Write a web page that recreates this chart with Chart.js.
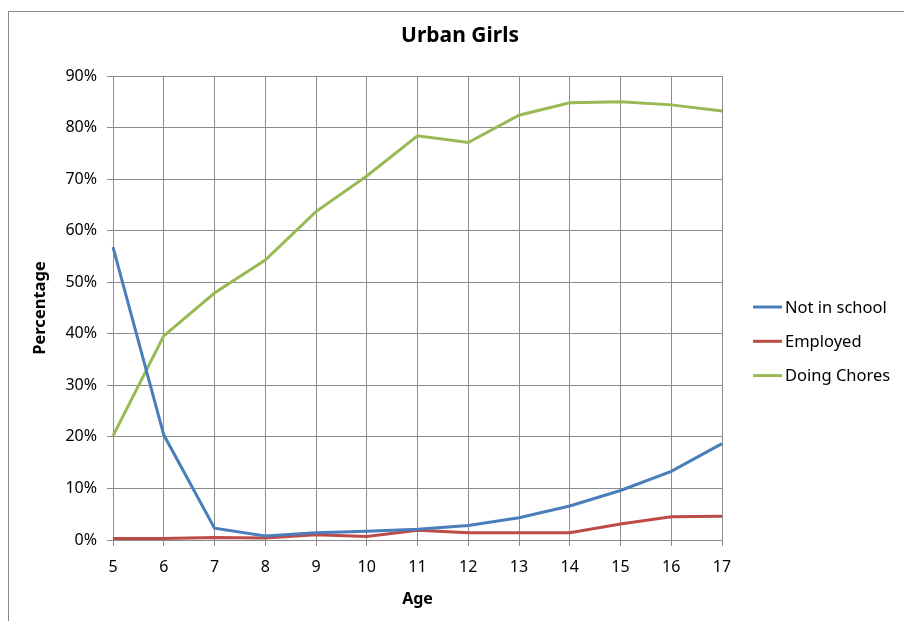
<!DOCTYPE html>
<html>
<head>
<meta charset="utf-8">
<script src="https://cdn.jsdelivr.net/npm/chart.js@4.4.1/dist/chart.umd.min.js"></script>
<style>
  html, body { margin: 0; padding: 0; background: #fff; }
  #wrap { position: relative; width: 904px; height: 621px; }
  #frame { position: absolute; left: 8px; top: 11px; right: -2px; bottom: -2px;
           border-top: 1px solid #8a8a8a; border-left: 1px solid #8a8a8a; }
  canvas { position: absolute; left: 0; top: 0; }
</style>
</head>
<body>
<div id="wrap">
  <div id="frame"></div>
  <canvas id="chart" width="904" height="621"></canvas>
</div>
<script>
const ages = ["5", "6", "7", "8", "9", "10", "11", "12", "13", "14", "15", "16", "17"];
const notInSchool = [56.8, 20.4, 2.3, 0.8, 1.4, 1.7, 2.1, 2.8, 4.3, 6.6, 9.6, 13.3, 18.7];
const employed = [0.3, 0.3, 0.5, 0.4, 1.0, 0.7, 1.9, 1.4, 1.4, 1.4, 3.1, 4.5, 4.6];
const doingChores = [20.2, 39.6, 47.9, 54.3, 63.7, 70.6, 78.4, 77.1, 82.4, 84.8, 85.0, 84.4, 83.2];
const yTicks = [0, 10, 20, 30, 40, 50, 60, 70, 80, 90];

const font = "'Noto Sans', 'Liberation Sans', sans-serif";
const gridColor = "#8c8c8c";

// legend + title drawn by hand so they sit where the original has them
const sidePlugin = {
  id: "side",
  afterDraw(chart) {
    const c = chart.ctx;
    c.save();
    c.fillStyle = "#000";
    c.font = "bold 21px " + font;
    c.textAlign = "center";
    c.textBaseline = "middle";
    c.fillText("Urban Girls", 460, 36);

    c.font = "16.5px " + font;
    c.textAlign = "left";
    chart.data.datasets.forEach((ds, i) => {
      const y = 307 + i * 34.3;
      c.strokeStyle = ds.borderColor;
      c.lineWidth = 3;
      c.beginPath();
      c.moveTo(753, y);
      c.lineTo(782, y);
      c.stroke();
      c.fillText(ds.label, 785, y + 1);
    });
    c.restore();
  }
};

new Chart(document.getElementById("chart"), {
  type: "line",
  data: {
    labels: ages,
    datasets: [
      { label: "Not in school", data: notInSchool, borderColor: "#4a7ebb" },
      { label: "Employed", data: employed, borderColor: "#be4b48" },
      { label: "Doing Chores", data: doingChores, borderColor: "#98b954" }
    ]
  },
  options: {
    responsive: false,
    animation: false,
    elements: {
      line: { borderWidth: 3, tension: 0 },
      point: { radius: 0 }
    },
    layout: { padding: { left: 20, right: 182, top: 76, bottom: 8 } },
    plugins: {
      legend: { display: false },
      title: { display: false },
      tooltip: { enabled: false }
    },
    scales: {
      x: {
        offset: false,
        afterFit(s) { s.height = 73; },
        grid: { color: gridColor, tickLength: 6 },
        border: { color: gridColor },
        ticks: { color: "#000", font: { family: font, size: 16 }, padding: 12, maxRotation: 0 },
        title: { display: true, text: "Age", color: "#000", font: { family: font, size: 16, weight: "bold" }, padding: { top: 0, bottom: 4 } }
      },
      y: {
        min: 0,
        max: 90,
        afterFit(s) { s.width = 93; },
        afterBuildTicks(s) { s.ticks = yTicks.map(v => ({ value: v })); },
        grid: { color: gridColor, tickLength: 6 },
        border: { color: gridColor },
        ticks: { color: "#000", font: { family: font, size: 16 }, padding: 10, callback: v => v + "%" },
        title: { display: true, text: "Percentage", color: "#000", font: { family: font, size: 16.5, weight: "bold" }, padding: { top: 10, bottom: 0 } }
      }
    }
  },
  plugins: [sidePlugin]
});
</script>
</body>
</html>
